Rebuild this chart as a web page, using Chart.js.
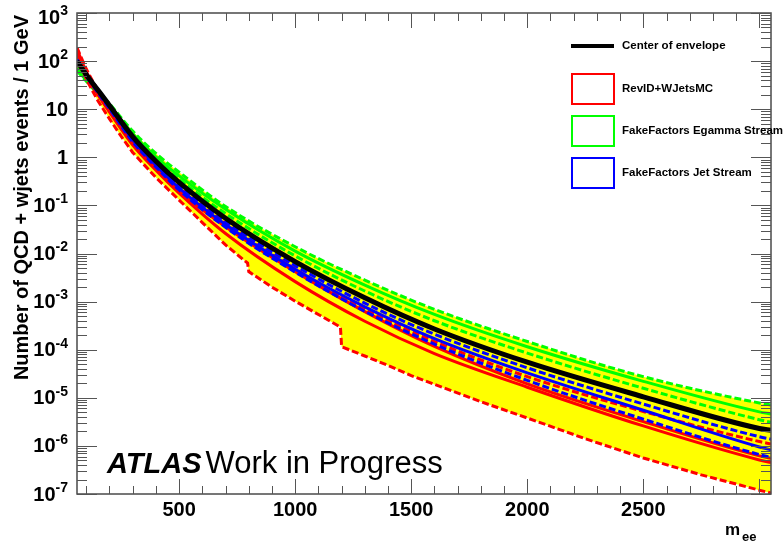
<!DOCTYPE html>
<html>
<head>
  <meta charset="utf-8">
  <title>QCD + W+jets background envelope</title>
  <script src="https://cdn.jsdelivr.net/npm/chart.js"></script>
  <style>
    body { margin: 0; background: #fff; }
    #wrap { width: 784px; height: 544px; }
  </style>
</head>
<body>
<div id="wrap"><canvas id="envChart" width="784" height="544"></canvas></div>

<script>
  // m_ee points (GeV) for the smooth curves
  const mass = [60, 100, 150, 200, 300, 400, 500, 700, 1000, 1300, 1600, 2000, 2500, 3000, 3050];
  // lower edge of the envelope jumps at 800 and 1200, so it gets its own (denser) points
  const massLow = [60, 80, 100, 125, 150, 200, 250, 300, 400, 500, 600, 700, 795, 800, 900, 1000, 1100, 1195, 1200,
                   1300, 1400, 1500, 1600, 1800, 2000, 2250, 2500, 2750, 3000, 3050];

  const center     = [100, 52, 25, 12, 2.7, 0.83, 0.30, 0.054, 6.8e-3, 1.2e-3, 2.7e-4, 5.5e-5, 1.05e-5, 2.3e-6, 2.1e-6];
  const egammaUp   = [71, 42, 24, 13, 3.5, 1.2, 0.49, 0.095, 1.38e-2, 2.8e-3, 6.9e-4, 1.48e-4, 2.75e-5, 7.8e-6, 7.1e-6];
  const egammaNom  = [66, 40, 22, 12, 3.1, 1.02, 0.41, 0.083, 1.12e-2, 2.2e-3, 5.4e-4, 1.15e-4, 2.2e-5, 5.1e-6, 4.6e-6];
  const egammaDown = [63, 38, 21, 11.2, 2.8, 0.93, 0.35, 0.068, 8.9e-3, 1.66e-3, 4.0e-4, 8.5e-5, 1.58e-5, 3.5e-6, 3.1e-6];
  const jetUp      = [107, 55, 26, 12, 2.6, 0.78, 0.27, 0.047, 5.6e-3, 9.3e-4, 2.1e-4, 4.2e-5, 7.4e-6, 1.55e-6, 1.38e-6];
  const jetNom     = [105, 52, 24, 11, 2.3, 0.69, 0.23, 0.040, 4.7e-3, 7.8e-4, 1.7e-4, 3.3e-5, 5.5e-6, 9.5e-7, 8.3e-7];
  const jetDown    = [100, 49, 22, 10.2, 2.1, 0.63, 0.21, 0.035, 4.1e-3, 6.3e-4, 1.3e-4, 2.3e-5, 3.6e-6, 6.6e-7, 5.8e-7];
  const revUp      = [190, 69, 25, 10.5, 2.3, 0.70, 0.24, 0.042, 4.8e-3, 6.9e-4, 1.48e-4, 2.75e-5, 5.2e-6, 1.23e-6, 1.1e-6];
  const revNom     = [178, 60, 23, 10, 2.1, 0.62, 0.20, 0.036, 4.2e-3, 6.2e-4, 1.17e-4, 1.95e-5, 3.2e-6, 6.2e-7, 5.5e-7];
  const revAlt     = [158, 52, 20, 8.7, 1.8, 0.54, 0.18, 0.026, 2.6e-3, 3.9e-4, 8.3e-5, 1.66e-5, 2.6e-6, 5.1e-7, 4.5e-7];
  const revDown    = [141, 74, 42, 25, 15, 6.3, 2.75, 1.26, 0.38, 0.129, 0.044, 0.0151, 6.3e-3, 4.2e-3, 2.0e-3, 1.02e-3,
                      5.4e-4, 2.95e-4, 1.15e-4, 7.4e-5, 4.7e-5, 2.9e-5, 1.9e-5, 8.3e-6, 3.8e-6, 1.41e-6, 5.6e-7, 2.5e-7,
                      1.2e-7, 1.05e-7];

  // axis labels
  const xTickLabels = [500, 1000, 1500, 2000, 2500];
  const yTickExps = [3, 2, 1, 0, -1, -2, -3, -4, -5, -6, -7];

  const legendItems = [
    { text: 'Center of envelope', color: '#000000', kind: 'line' },
    { text: 'RevID+WJetsMC', color: '#ff0000', kind: 'box' },
    { text: 'FakeFactors Egamma Stream', color: '#00ff00', kind: 'box' },
    { text: 'FakeFactors Jet Stream', color: '#0000ff', kind: 'box' }
  ];

  const pts = (xs, ys) => xs.map((m, i) => ({ x: m, y: ys[i] }));
  const DASH = [7, 3];

  function series(label, xs, ys, color, dashed, order, extra) {
    return Object.assign({
      label: label,
      data: pts(xs, ys),
      borderColor: color,
      borderWidth: 3,
      borderDash: dashed ? DASH : [],
      fill: false,
      order: order
    }, extra || {});
  }

  const datasets = [
    series('RevID down', massLow, revDown, '#ff0000', true, 2,
           { cubicInterpolationMode: 'default', tension: 0 }),                 // 0
    series('Egamma up', mass, egammaUp, '#00ff00', true, 3,
           { fill: { target: 0 }, backgroundColor: '#ffff00' }),               // 1
    series('Egamma', mass, egammaNom, '#00ff00', false, 3),
    series('Egamma down', mass, egammaDown, '#00ff00', true, 3),
    series('RevID alt', mass, revAlt, '#ff0000', false, 2),
    series('RevID', mass, revNom, '#ff0000', false, 2),
    series('RevID up', mass, revUp, '#ff0000', true, 2),
    series('Jet up', mass, jetUp, '#0000ff', true, 1),
    series('Jet', mass, jetNom, '#0000ff', false, 1),
    series('Jet down', mass, jetDown, '#0000ff', true, 1),
    series('Center of envelope', mass, center, '#000000', false, 0, { borderWidth: 5 })
  ];

  const FONT = '"Liberation Sans", Arial, Helvetica, sans-serif';

  // ROOT-like frame: inward ticks on all four sides, labels, titles, legend
  const rootFrame = {
    id: 'rootFrame',
    afterDraw(chart) {
      const { ctx, chartArea: a, scales: { x, y } } = chart;
      const seg = (x1, y1, x2, y2) => { ctx.beginPath(); ctx.moveTo(x1, y1); ctx.lineTo(x2, y2); ctx.stroke(); };
      ctx.save();

      // frame
      ctx.strokeStyle = '#4a4a4a';
      ctx.lineWidth = 1.5;
      ctx.strokeRect(a.left, a.top, a.right - a.left, a.bottom - a.top);

      // y ticks
      ctx.lineWidth = 1;
      ctx.strokeStyle = '#555';
      for (let e = -7; e <= 3; e++) {
        for (let k = 1; k <= 9; k++) {
          if (e === 3 && k > 1) break;
          const py = Math.round(y.getPixelForValue(k * Math.pow(10, e))) + 0.5;
          const len = k === 1 ? 20 : 10;
          seg(a.left, py, a.left + len, py);
          seg(a.right, py, a.right - len, py);
        }
      }
      // x ticks
      for (let m = 100; m <= 3000; m += 100) {
        const px = Math.round(x.getPixelForValue(m)) + 0.5;
        const len = m % 500 === 0 ? 15 : 8;
        seg(px, a.bottom, px, a.bottom - len);
        seg(px, a.top, px, a.top + len);
      }

      ctx.fillStyle = '#000';
      // x labels
      ctx.font = 'bold 20px ' + FONT;
      ctx.textAlign = 'center';
      ctx.textBaseline = 'alphabetic';
      xTickLabels.forEach(v => ctx.fillText(String(v), x.getPixelForValue(v), 516));

      // y labels 10^n
      ctx.textBaseline = 'middle';
      ctx.textAlign = 'left';
      const rightEdge = 68;
      yTickExps.forEach(e => {
        const py = y.getPixelForValue(Math.pow(10, e));
        const base = e === 0 ? '1' : '10';
        const sup = (e === 0 || e === 1) ? '' : String(e);
        ctx.font = 'bold 14px ' + FONT;
        const ws = sup ? ctx.measureText(sup).width : 0;
        ctx.font = 'bold 20px ' + FONT;
        const wb = ctx.measureText(base).width;
        const cy = Math.max(py, 17);
        ctx.fillText(base, rightEdge - ws - wb, cy + 1);
        if (sup) {
          ctx.font = 'bold 14px ' + FONT;
          ctx.fillText(sup, rightEdge - ws, cy - 6);
        }
      });

      // y title
      ctx.save();
      ctx.translate(28, 15);
      ctx.rotate(-Math.PI / 2);
      ctx.font = 'bold 20px ' + FONT;
      ctx.textAlign = 'right';
      ctx.textBaseline = 'alphabetic';
      ctx.fillText('Number of QCD + wjets events / 1 GeV', 0, 0);
      ctx.restore();

      // x title m_ee
      ctx.textAlign = 'left';
      ctx.textBaseline = 'alphabetic';
      ctx.font = 'bold 17px ' + FONT;
      ctx.fillText('m', 725, 535);
      ctx.font = 'bold 13px ' + FONT;
      ctx.fillText('ee', 742, 541);

      // ATLAS label
      ctx.font = 'italic bold 29px ' + FONT;
      ctx.fillText('ATLAS', 107, 473);
      const wa = ctx.measureText('ATLAS').width;
      ctx.font = '31px ' + FONT;
      ctx.fillText('Work in Progress', 107 + wa + 4, 473);

      // legend
      const rowY = [46, 89, 131, 173];
      ctx.font = 'bold 11.5px ' + FONT;
      ctx.textBaseline = 'middle';
      legendItems.forEach((it, i) => {
        const cy = rowY[i];
        if (it.kind === 'line') {
          ctx.strokeStyle = it.color;
          ctx.lineWidth = 4;
          seg(571, cy, 614, cy);
        } else {
          ctx.strokeStyle = it.color;
          ctx.lineWidth = 2;
          ctx.strokeRect(572, cy - 15, 42, 30);
        }
        ctx.fillStyle = '#000';
        ctx.fillText(it.text, 622, cy);
      });

      ctx.restore();
    }
  };

  new Chart(document.getElementById('envChart'), {
    type: 'line',
    data: { datasets: datasets },
    options: {
      responsive: false,
      animation: false,
      layout: { padding: { left: 77, top: 13, right: 13, bottom: 50 } },
      scales: {
        x: { type: 'linear', min: 60, max: 3050, display: false },
        y: { type: 'logarithmic', min: 1e-7, max: 1e3, display: false }
      },
      elements: {
        point: { radius: 0 },
        line: { cubicInterpolationMode: 'monotone' }
      },
      plugins: {
        legend: { display: false },
        tooltip: { enabled: false },
        filler: { drawTime: 'beforeDatasetsDraw' }
      }
    },
    plugins: [rootFrame]
  });
</script>
</body>
</html>
